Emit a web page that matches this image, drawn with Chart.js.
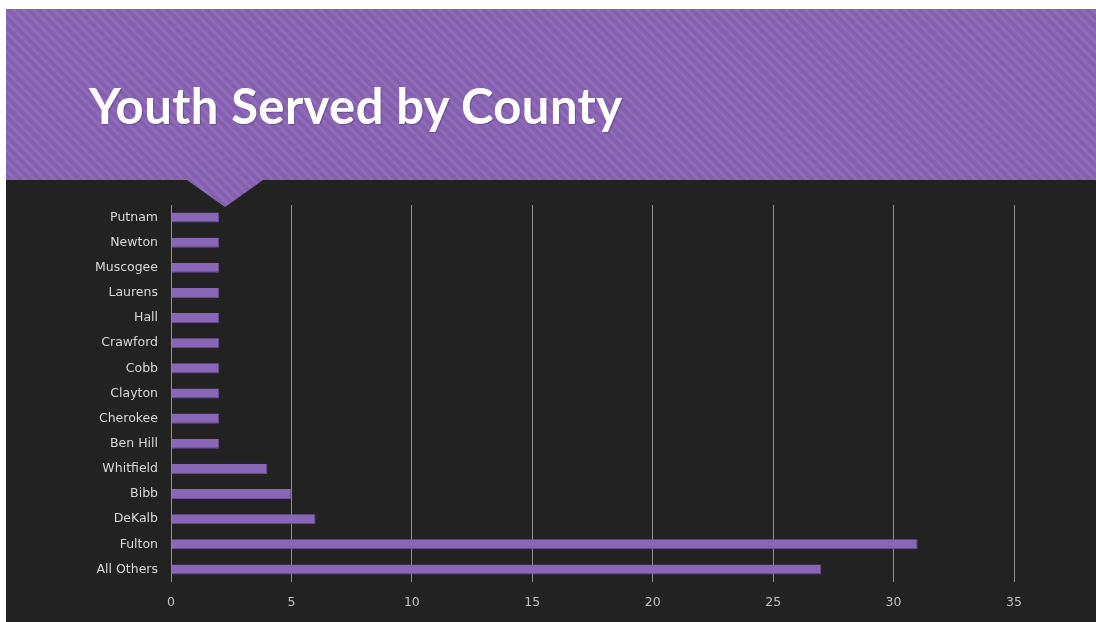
<!DOCTYPE html>
<html>
<head>
<meta charset="utf-8">
<script src="https://cdn.jsdelivr.net/npm/chart.js@4.4.1/dist/chart.umd.min.js"></script>
<style>
  html, body { margin: 0; padding: 0; background: #fff; }
  body { width: 1096px; height: 622px; position: relative; overflow: hidden; }
  #slide {
    position: absolute; left: 6px; top: 9px; width: 1090px; height: 613px;
    background: #222222;
  }
  #header {
    position: absolute; left: 0; top: 0; width: 1090px; height: 198px;
    background: repeating-linear-gradient(45deg, #8460ae 0px, #8460ae 3px, #8f6cba 4px, #8f6cba 6px, #8460ae 7px);
    clip-path: polygon(0 0, 100% 0, 100% 171px, 257px 171px, 222px 196px, 219px 198px, 216px 196px, 181px 171px, 0 171px);
  }
  #title {
    position: absolute; left: 89px; top: 76px; margin: 0;
    font-family: "Lato", sans-serif; font-weight: bold; font-size: 49px;
    color: #ffffff; letter-spacing: 0.4px;
    text-shadow: 1px 1px 1px rgba(60, 30, 90, 0.35);
  }
  #wrap { position: absolute; left: 0; top: 0; width: 1096px; height: 622px; }
</style>
</head>
<body>
<div id="slide">
  <div id="header"></div>
</div>
<h1 id="title">Youth Served by County</h1>
<div id="wrap"><canvas id="county-chart" width="1096" height="622"></canvas></div>
<script>
  // counties, top to bottom
  var counties = ["Putnam", "Newton", "Muscogee", "Laurens", "Hall", "Crawford", "Cobb",
                  "Clayton", "Cherokee", "Ben Hill", "Whitfield", "Bibb", "DeKalb", "Fulton", "All Others"];
  var youthServed = [2, 2, 2, 2, 2, 2, 2, 2, 2, 2, 4, 5, 6, 31, 27];
  var xTicks = [0, 5, 10, 15, 20, 25, 30, 35];

  var ctx = document.getElementById("county-chart").getContext("2d");
  var countyChart = new Chart(ctx, {
      type: "bar",
      data: {
          labels: counties,
          datasets: [{
              data: youthServed,
              backgroundColor: "#8a66b9",
              borderColor: "#6b4c96",
              borderWidth: { bottom: 1, top: 0, left: 0, right: 1 },
              borderSkipped: false,
              categoryPercentage: 1,
              barPercentage: 0.4
          }]
      },
      options: {
          indexAxis: "y",
          responsive: false,
          animation: false,
          layout: { padding: { top: 205, right: 82, bottom: 0, left: 0 } },
          plugins: { legend: { display: false }, tooltip: { enabled: false } },
          scales: {
              x: {
                  min: 0,
                  max: 35,
                  afterBuildTicks: function (axis) {
                      axis.ticks = xTicks.map(function (v) { return { value: v }; });
                  },
                  afterFit: function (axis) { axis.height = 40; },
                  grid: { color: "#919191", lineWidth: 1, drawTicks: false },
                  border: { display: false },
                  ticks: {
                      color: "#c2c2c2",
                      padding: 13,
                      font: { family: "DejaVu Sans", size: 12.5 }
                  }
              },
              y: {
                  afterFit: function (axis) { axis.width = 171; },
                  grid: { display: false, drawTicks: false },
                  border: { display: false },
                  ticks: {
                      color: "#d9d9d9",
                      padding: 13,
                      autoSkip: false,
                      font: { family: "DejaVu Sans", size: 12.5 }
                  }
              }
          }
      }
  });
</script>
</body>
</html>
